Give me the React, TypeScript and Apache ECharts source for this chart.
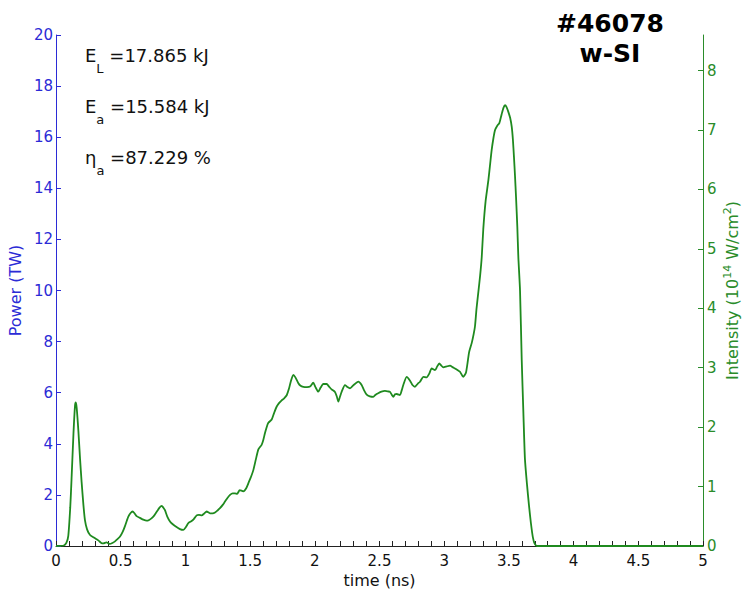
import React, { useEffect, useRef } from "react";
import * as echarts from "echarts";

// Laser pulse power history (time in ns, power in TW)
const timeNs = [
  0, 0.06, 0.08, 0.095, 0.11, 0.12, 0.135, 0.147, 0.153, 0.16, 0.173, 0.186, 0.198, 0.212, 0.224, 0.24,
  0.263, 0.295, 0.327, 0.35, 0.366, 0.39, 0.417, 0.436, 0.456, 0.475, 0.495, 0.515, 0.533, 0.548, 0.559,
  0.575, 0.592, 0.607, 0.623, 0.649, 0.675, 0.7, 0.72, 0.74, 0.76, 0.778, 0.8, 0.817, 0.83, 0.842, 0.86,
  0.881, 0.9, 0.92, 0.958, 0.984, 1.005, 1.023, 1.045, 1.061, 1.087, 1.105, 1.126, 1.145, 1.164, 1.19,
  1.21, 1.229, 1.25, 1.267, 1.29, 1.306, 1.325, 1.345, 1.365, 1.383, 1.4, 1.42, 1.447, 1.47, 1.49, 1.508,
  1.525, 1.545, 1.564, 1.589, 1.602, 1.615, 1.628, 1.641, 1.667, 1.685, 1.705, 1.725, 1.744, 1.763, 1.783,
  1.8, 1.815, 1.834, 1.85, 1.873, 1.89, 1.911, 1.94, 1.963, 1.988, 2.005, 2.027, 2.045, 2.066, 2.092, 2.11,
  2.13, 2.156, 2.17, 2.182, 2.195, 2.208, 2.233, 2.252, 2.272, 2.3, 2.336, 2.362, 2.38, 2.401, 2.425,
  2.452, 2.47, 2.49, 2.515, 2.542, 2.565, 2.581, 2.595, 2.607, 2.62, 2.633, 2.658, 2.672, 2.684, 2.71,
  2.736, 2.755, 2.774, 2.795, 2.813, 2.839, 2.864, 2.885, 2.903, 2.929, 2.945, 2.962, 2.978, 2.993, 3.02,
  3.045, 3.065, 3.083, 3.105, 3.122, 3.14, 3.148, 3.16, 3.169, 3.18, 3.193, 3.213, 3.228, 3.238, 3.25,
  3.264, 3.278, 3.29, 3.302, 3.32, 3.341, 3.355, 3.367, 3.38, 3.393, 3.41, 3.426, 3.444, 3.458, 3.47,
  3.482, 3.495, 3.51, 3.522, 3.531, 3.539, 3.547, 3.555, 3.565, 3.573, 3.586, 3.599, 3.612, 3.624, 3.64,
  3.655, 3.67, 3.685, 3.7, 3.72, 5.0,
];

const powerTW = [
  0, 0.02, 0.12, 0.4, 1.5, 2.6, 4.4, 5.5, 5.62, 5.4, 4.5, 3.4, 2.5, 1.6, 1.0, 0.65,
  0.43, 0.32, 0.22, 0.12, 0.1, 0.14, 0.08, 0.12, 0.18, 0.27, 0.37, 0.55, 0.78, 1.0, 1.15,
  1.28, 1.35, 1.28, 1.17, 1.1, 1.03, 0.99, 1.02, 1.09, 1.2, 1.34, 1.5, 1.57, 1.5, 1.4, 1.15,
  0.96, 0.86, 0.78, 0.66, 0.63, 0.75, 0.9, 0.97, 1.03, 1.2, 1.22, 1.2, 1.27, 1.35, 1.28,
  1.28, 1.31, 1.4, 1.48, 1.62, 1.74, 1.88, 2.0, 2.06, 2.06, 2.04, 2.19, 2.14, 2.26, 2.5, 2.72,
  2.97, 3.4, 3.78, 3.96, 4.15, 4.42, 4.65, 4.82, 4.95, 5.2, 5.45, 5.6, 5.7, 5.78, 5.9,
  6.15, 6.45, 6.7, 6.6, 6.37, 6.27, 6.23, 6.22, 6.24, 6.39, 6.22, 6.04, 6.2, 6.34, 6.34, 6.24,
  6.13, 6.03, 5.85, 5.65, 5.85, 6.04, 6.3, 6.22, 6.17, 6.3, 6.43, 6.3, 6.1, 5.92, 5.86,
  5.84, 5.92, 5.98, 6.04, 6.07, 6.05, 6.03, 5.92, 5.84, 5.94, 5.95, 5.91, 6.1, 6.3, 6.62,
  6.47, 6.3, 6.23, 6.35, 6.43, 6.62, 6.6, 6.75, 6.95, 6.88, 7.02, 7.15, 7.06, 6.99, 7.03,
  7.06, 7.0, 6.95, 6.88, 6.82, 6.66, 6.62, 6.7, 6.8, 7.15, 7.6, 7.95, 8.3, 8.6, 9.3,
  9.95, 10.6, 11.3, 12.4, 13.5, 14.3, 14.95, 15.5, 15.95, 16.28, 16.45, 16.55, 16.9, 17.15, 17.25,
  17.18, 17.0, 16.75, 16.4, 15.9, 15.24, 14.5, 13.67, 12.5, 11.3, 10.0, 7.3, 5.2, 3.4, 2.4,
  1.6, 0.9, 0.35, 0.08, 0, 0,
];

// Right-hand intensity scale (10^14 W/cm^2) shown against the same curve
const intensityTicks = [0, 1, 2, 3, 4, 5, 6, 7, 8];
const intensityMax = 8.6;

// Shot summary
const shotTitle = ["#46078", "w-SI"];
const energyLines = [
  { sym: "E", sub: "L", value: "=17.865 kJ" },
  { sym: "E", sub: "a", value: "=15.584 kJ" },
  { sym: "η", sub: "a", value: "=87.229 %" },
];

const FONT = "DejaVu Sans";
const BLUE = "#2b2bd6";
const GREEN = "#2a8c2a";
const LINE_GREEN = "#1f8a1f";

export default function App() {
  const ref = useRef<HTMLDivElement>(null);

  useEffect(() => {
    if (!ref.current) return;
    const chart = echarts.init(ref.current, undefined, { renderer: "svg" });

    const series = timeNs.map((t, i) => [t, powerTW[i]]);

    // Main symbol and value sit at the top of a tall line; the subscript drops to its bottom.
    const energyGraphics = energyLines.map((l, i) => ({
      type: "text",
      x: 85,
      y: 46 + i * 51,
      style: {
        text: `{m|${l.sym}}{s|${l.sub}}{m| ${l.value}}`,
        fill: "#111",
        rich: {
          m: { fontFamily: FONT, fontSize: 18, lineHeight: 20, verticalAlign: "top", fill: "#111" },
          s: { fontFamily: FONT, fontSize: 13, lineHeight: 29, verticalAlign: "bottom", fill: "#111" },
        },
      },
    }));

    const titleGraphics = shotTitle.map((t, i) => ({
      type: "text",
      x: 610,
      y: 23 + i * 30,
      style: {
        text: t,
        fontFamily: FONT,
        fontWeight: "bold",
        fontSize: 25,
        fill: "#000",
        align: "center",
        verticalAlign: "middle",
      },
    }));

    chart.setOption({
      animation: false,
      backgroundColor: "#fff",
      grid: { left: 56, right: 41, top: 35, bottom: 44, outerBoundsMode: "none", containLabel: false },
      xAxis: {
        type: "value",
        min: 0,
        max: 5,
        interval: 0.5,
        name: "time (ns)",
        nameLocation: "middle",
        nameGap: 19,
        nameTextStyle: { fontFamily: FONT, fontSize: 16, color: "#111" },
        axisLine: { lineStyle: { color: "#222", width: 1 } },
        axisTick: { inside: true, length: 5, lineStyle: { color: "#222" } },
        minorTick: { show: true, splitNumber: 5, length: 5, lineStyle: { color: "#222" } },
        axisLabel: { fontFamily: FONT, fontSize: 15, color: "#111", margin: 7 },
        splitLine: { show: false },
      },
      yAxis: [
        {
          type: "value",
          min: 0,
          max: 20,
          interval: 2,
          position: "left",
          name: "Power (TW)",
          nameLocation: "middle",
          nameGap: 31,
          nameTextStyle: { fontFamily: FONT, fontSize: 16, color: BLUE },
          axisLine: { show: true, lineStyle: { color: BLUE, width: 1 } },
          axisTick: { show: true, inside: true, length: 5, lineStyle: { color: BLUE } },
          axisLabel: { fontFamily: FONT, fontSize: 15, color: BLUE, margin: 3 },
          splitLine: { show: false },
        },
        {
          type: "value",
          min: 0,
          max: intensityMax,
          interval: 1,
          position: "right",
          name: "{n|Intensity (10}{s|14}{n| W/cm}{s|2}{n|)}",
          nameLocation: "middle",
          nameGap: 19,
          nameMoveOverlap: false,
          nameTextStyle: {
            color: GREEN,
            rich: {
              n: { fontFamily: FONT, fontSize: 16, lineHeight: 18, verticalAlign: "bottom", color: GREEN },
              s: { fontFamily: FONT, fontSize: 11, lineHeight: 12, verticalAlign: "top", color: GREEN },
            },
          },
          axisLine: { show: true, lineStyle: { color: GREEN, width: 1 } },
          axisTick: {
            show: true,
            inside: true,
            length: 5,
            lineStyle: { color: GREEN },
            customValues: intensityTicks,
          },
          axisLabel: {
            fontFamily: FONT,
            fontSize: 15,
            color: GREEN,
            margin: 4,
            customValues: intensityTicks,
          },
          splitLine: { show: false },
        },
      ],
      series: [
        {
          type: "line",
          yAxisIndex: 0,
          data: series,
          showSymbol: false,
          smooth: 0.2,
          clip: false,
          lineStyle: { color: LINE_GREEN, width: 1.8 },
          z: 5,
        },
      ],
      graphic: [...energyGraphics, ...titleGraphics],
    });

    return () => chart.dispose();
  }, []);

  return (
    <div
      ref={ref}
      style={{ position: "fixed", left: 0, top: 0, width: 744, height: 590, background: "#fff" }}
    />
  );
}
